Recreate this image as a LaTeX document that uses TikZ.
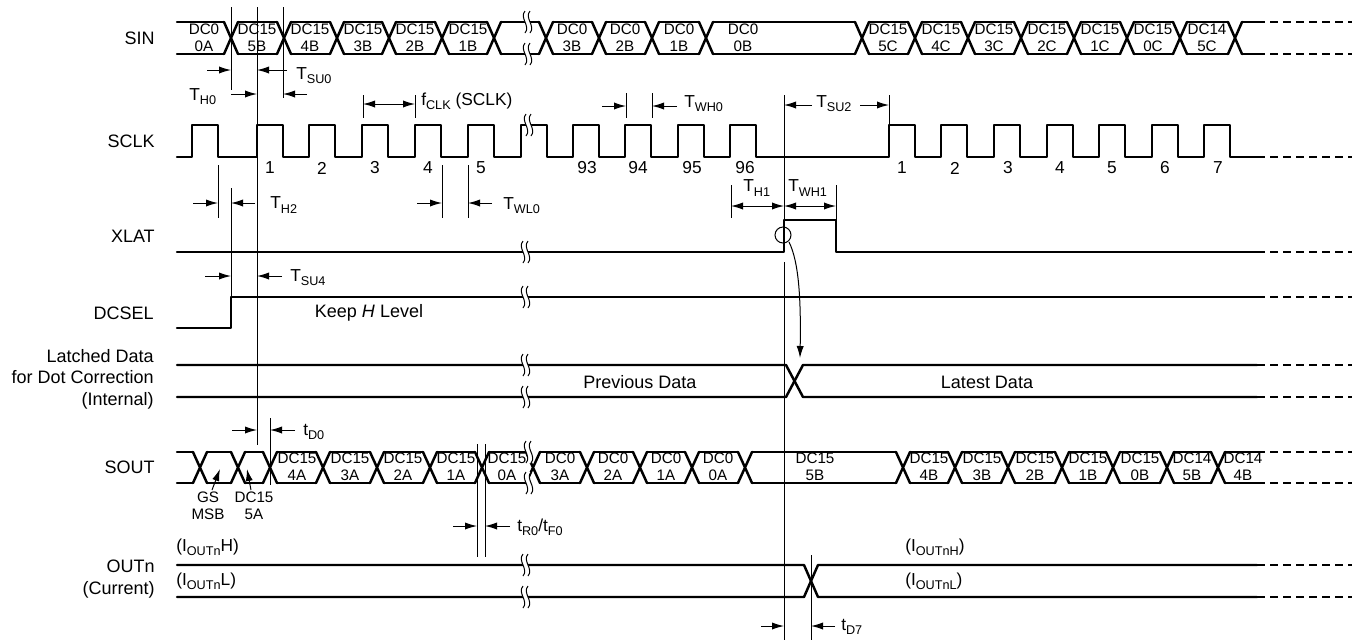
\documentclass[tikz,border=0pt]{standalone}
\usepackage{fontspec}
\setmainfont{Liberation Sans}
\usetikzlibrary{arrows.meta}
\newcommand\lsub[1]{\raisebox{-0.45ex}{\fontsize{9.5}{9.5}\selectfont #1}}
\newcommand\brkmark[2]{%
  \fill[white] (#1-2,#2-11) .. controls (#1-8,#2-4) and (#1+4,#2+4) .. (#1-2,#2+11)
     -- (#1+3,#2+11) .. controls (#1+9,#2+4) and (#1-3,#2-4) .. (#1+3,#2-11) -- cycle;
  \draw[thinl] (#1-2,#2-11) .. controls (#1-8,#2-4) and (#1+4,#2+4) .. (#1-2,#2+11);
  \draw[thinl] (#1+3,#2-11) .. controls (#1-3,#2-4) and (#1+9,#2+4) .. (#1+3,#2+11);}
\begin{document}
\begin{tikzpicture}[x=0.75pt,y=-0.75pt,
  sig/.style={line width=1.85pt,line cap=round,line join=round},
  sigdashed/.style={line width=1.85pt,dash pattern=on 6pt off 3.8pt},
  thinl/.style={line width=0.75pt},
  dimr/.style={line width=0.75pt,-{Latex[length=9pt,width=5.4pt]}},
  dimb/.style={line width=0.75pt,{Latex[length=9pt,width=5.4pt]}-{Latex[length=9pt,width=5.4pt]}},
  sname/.style={font=\fontsize{13.5}{16}\selectfont,inner sep=0,anchor=east,align=right},
  cell/.style={font=\fontsize{11.4}{11.4}\selectfont,inner sep=0,align=center},
  num/.style={font=\fontsize{13}{13}\selectfont,inner sep=0},
  body/.style={font=\fontsize{13.5}{13.5}\selectfont,inner sep=0},
  tl/.style={font=\fontsize{13}{13}\selectfont,inner sep=0,anchor=west}]
\useasboundingbox (0,0) rectangle (1357,640);

% ---------- signal names ----------
\node[sname] (nsin) at (155,38) {SIN};
\node[sname] (nsclk) at (155,141) {SCLK};
\node[sname] (nxlat) at (155,236) {XLAT};
\node[sname] (ndcsel) at (154,313) {DCSEL};
\node[sname] (nlat) at (154,379) {Latched Data\\for Dot Correction\\(Internal)};
\node[sname] (nsout) at (155,467) {SOUT};
\node[sname] (nout) at (155,579) {OUTn\\(Current)};

% ---------- SIN bus ----------
\def\yt{22}\def\yb{54}
\foreach \c [remember=\c as \p (initially 170)] in {231,284,337,389,442,494,546,599,652,706,862,915,968,1021,1074,1127,1180,1235}{
  \draw[sig] (\p+7,\yt) -- (\c-7,\yt) (\p+7,\yb) -- (\c-7,\yb);
  \draw[sig] (\c-7,\yt) -- (\c+7,\yb) (\c-7,\yb) -- (\c+7,\yt);}
\draw[sig] (1242,\yt) -- (1257,\yt) (1242,\yb) -- (1257,\yb);
\draw[sigdashed] (1257,\yt) -- (1352,\yt) (1257,\yb) -- (1352,\yb);
\brkmark{527}{22}\brkmark{527}{54}
\foreach \x/\a/\b in {204/DC0/0A,257/DC15/5B,310/DC15/4B,363/DC15/3B,415/DC15/2B,468/DC15/1B,
  572/DC0/3B,625/DC0/2B,679/DC0/1B,743/DC0/0B,888/DC15/5C,941/DC15/4C,994/DC15/3C,1047/DC15/2C,
  1100/DC15/1C,1153/DC15/0C,1207/DC14/5C}
  \node[cell] at (\x,38) {\a\\[1.2pt]\b};

% ---------- SCLK ----------
\draw[sig] (177,157)
  \foreach \r in {192,257,309,362,415,468,521,573,625,678,730,889,941,994,1047,1099,1152,1204}{
    -- (\r,157) -- (\r,125) -- (\r+26,125) -- (\r+26,157)} -- (1257,157);
\draw[sigdashed] (1257,157) -- (1352,157);
\brkmark{528}{125}
\foreach \x/\t in {270/1,322/2,375/3,428/4,481/5,587/93,638/94,692/95,745/96,
  902/1,955/2,1008/3,1060/4,1112/5,1165/6,1218/7}
  \node[num] at (\x,168) {\t};

% ---------- XLAT ----------
\draw[sig] (177,252) -- (784,252) -- (784,220) -- (836,220) -- (836,252) -- (1257,252);
\draw[sigdashed] (1257,252) -- (1352,252);
\brkmark{525}{252}
\draw[thinl] (783,235) circle (8);

% ---------- DCSEL ----------
\draw[sig] (177,328) -- (231,328) -- (231,297) -- (1257,297);
\draw[sigdashed] (1257,297) -- (1352,297);
\brkmark{525}{297}
\node[body] (keep) at (369,313) {Keep \textit{H} Level};

% ---------- Latched data ----------
\draw[sig] (177,365) -- (786,365) -- (803,397) -- (1257,397);
\draw[sig] (177,397) -- (786,397) -- (803,365) -- (1257,365);
\draw[sigdashed] (1257,365) -- (1352,365) (1257,397) -- (1352,397);
\brkmark{525}{365}\brkmark{525}{397}
\node[body] (prev) at (640,382) {Previous Data};
\node[body] (late) at (987,382) {Latest Data};

% ---------- SOUT ----------
\def\yt{452}\def\yb{483}
\foreach \c [remember=\c as \p (initially 170)] in {200,238,270,323,377,430,482,533,587,640,692,745,903,955,1008,1062,1113,1167,1218}{
  \draw[sig] (\p+7,\yt) -- (\c-7,\yt) (\p+7,\yb) -- (\c-7,\yb);
  \draw[sig] (\c-7,\yt) -- (\c+7,\yb) (\c-7,\yb) -- (\c+7,\yt);}
\draw[sig] (1225,\yt) -- (1257,\yt) (1225,\yb) -- (1257,\yb);
\draw[sigdashed] (1257,\yt) -- (1352,\yt) (1257,\yb) -- (1352,\yb);
\brkmark{528}{452}\brkmark{528}{483}
\foreach \x/\a/\b in {297/DC15/4A,350/DC15/3A,403/DC15/2A,456/DC15/1A,507/DC15/0A,
  560/DC0/3A,613/DC0/2A,666/DC0/1A,718/DC0/0A,815/DC15/5B,929/DC15/4B,982/DC15/3B,1035/DC15/2B,
  1088/DC15/1B,1140/DC15/0B,1192/DC14/5B,1243/DC14/4B}
  \node[cell] at (\x,467) {\a\\[1.2pt]\b};
\node[cell] (gs) at (208,506) {GS\\[1.2pt]MSB};
\node[cell] (dc5a) at (254,506) {DC15\\[1.2pt]5A};
\draw[dimr] (212,490) -- (220,469);
\draw[dimr] (251,490) -- (247,469);

% ---------- OUTn ----------
\draw[sig] (177,565) -- (804,565) -- (818,597) -- (1257,597);
\draw[sig] (177,597) -- (804,597) -- (818,565) -- (1257,565);
\draw[sigdashed] (1257,565) -- (1352,565) (1257,597) -- (1352,597);
\brkmark{525}{565}\brkmark{525}{597}
\node[tl] at (176,547) {(I\lsub{OUTn}H)};
\node[tl] at (176,581) {(I\lsub{OUTn}L)};
\node[tl] at (905,547) {(I\lsub{OUTnH})};
\node[tl] at (905,581) {(I\lsub{OUTnL})};

% ---------- reference lines ----------
\draw[thinl] (231,7) -- (231,90);
\draw[thinl] (257,7) -- (257,445);
\draw[thinl] (283,7) -- (283,98);
\draw[thinl] (363,95) -- (363,118) (415,95) -- (415,118);
\draw[thinl] (626,93) -- (626,118) (652,93) -- (652,118);
\draw[thinl] (784,95) -- (784,220);
\draw[thinl] (889,95) -- (889,125);
\draw[thinl] (218,165) -- (218,218);
\draw[thinl] (231,188) -- (231,297);
\draw[thinl] (442,165) -- (442,218) (468,165) -- (468,218);
\draw[thinl] (731,185) -- (731,218) (836,185) -- (836,220);
\draw[thinl] (784,262) -- (784,640);
\draw[thinl] (270,418) -- (270,485);
\draw[thinl] (477,444) -- (477,557) (485,444) -- (485,557);
\draw[thinl] (811,555) -- (811,640);

% ---------- dimension arrows ----------
\draw[dimr] (207,70) -- (231,70);  \draw[dimr] (287,70) -- (257,70);
\node[tl] at (296,76) {T\lsub{SU0}};
\draw[dimr] (231,94) -- (257,94);  \draw[dimr] (307,94) -- (283,94);
\node[tl] at (189,97) {T\lsub{H0}};
\draw[dimb] (363,104) -- (415,104);
\node[tl] at (421,101) {f\lsub{CLK} (SCLK)};
\draw[dimr] (602,106) -- (626,106); \draw[dimr] (677,106) -- (652,106);
\node[tl] at (684,104) {T\lsub{WH0}};
\draw[dimr] (812,105) -- (784,105); \draw[dimr] (860,105) -- (889,105);
\node[tl] at (816,104) {T\lsub{SU2}};
\draw[dimr] (193,203) -- (218,203); \draw[dimr] (255,203) -- (231,203);
\node[tl] at (270,205) {T\lsub{H2}};
\draw[dimr] (417,203) -- (442,203); \draw[dimr] (492,203) -- (468,203);
\node[tl] at (503,206) {T\lsub{WL0}};
\draw[dimb] (731,206) -- (784,206); \draw[dimb] (784,206) -- (836,206);
\node[tl] at (743,188) {T\lsub{H1}};
\node[tl] at (788,188) {T\lsub{WH1}};
\draw[dimr] (205,276) -- (231,276); \draw[dimr] (282,276) -- (257,276);
\node[tl] at (290,278) {T\lsub{SU4}};
\draw[dimr] (232,430) -- (257,430); \draw[dimr] (295,430) -- (270,430);
\node[tl] at (303,432) {t\lsub{D0}};
\draw[dimr] (453,526) -- (477,526); \draw[dimr] (510,526) -- (485,526);
\node[tl] at (517,527) {t\lsub{R0}/t\lsub{F0}};
\draw[dimr] (761,626) -- (784,626); \draw[dimr] (835,626) -- (811,626);
\node[tl] at (841,627) {t\lsub{D7}};

% ---------- latch arrow ----------
\draw[dimr] (789,242) .. controls (799,262) and (801,300) .. (800,358);
\end{tikzpicture}
\end{document}
